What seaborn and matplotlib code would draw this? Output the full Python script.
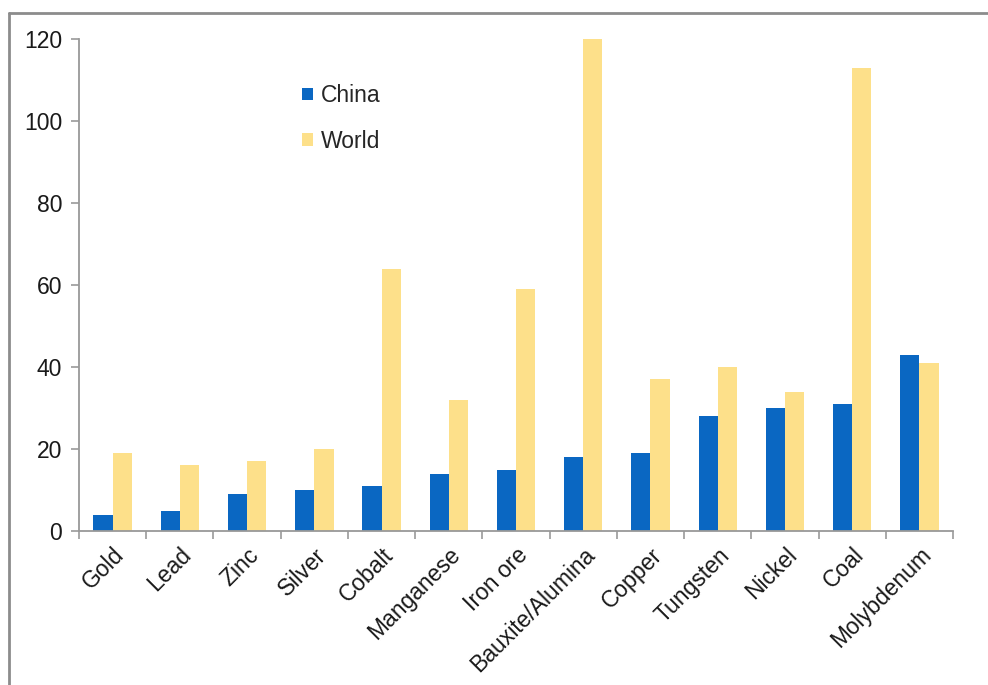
import matplotlib
matplotlib.use("Agg")
import matplotlib.pyplot as plt
from matplotlib.lines import Line2D
from matplotlib.patches import Patch
from matplotlib.transforms import ScaledTranslation
import seaborn as sns
import pandas as pd
import numpy as np

minerals = ["Gold", "Lead", "Zinc", "Silver", "Cobalt", "Manganese", "Iron ore",
            "Bauxite/Alumina", "Copper", "Tungsten", "Nickel", "Coal", "Molybdenum"]
china = [4, 5, 9, 10, 11, 14, 15, 18, 19, 28, 30, 31, 43]
world = [19, 16, 17, 20, 64, 32, 59, 120, 37, 40, 34, 113, 41]
series = ["China", "World"]
colors = {"China": "#0A67C2", "World": "#FDE08A"}
y_ticks = [0, 20, 40, 60, 80, 100, 120]

df = pd.DataFrame({
    "Mineral": minerals * 2,
    "Series": ["China"] * len(minerals) + ["World"] * len(minerals),
    "Value": china + world,
})

sns.set_theme(style="white")
plt.rcParams["font.family"] = ["Liberation Sans", "DejaVu Sans"]

fig = plt.figure(figsize=(9.88, 6.85), dpi=100)
ax = fig.add_axes([0.080, 0.2248, 0.8846, 0.7182])

sns.barplot(data=df, x="Mineral", y="Value", hue="Series", order=minerals,
            hue_order=series, palette=colors, width=0.57, saturation=1,
            edgecolor="none", linewidth=0, legend=False, ax=ax)

ax.set_xlim(-0.5, len(minerals) - 0.5)
ax.set_ylim(0, 120)
ax.set_yticks(y_ticks)
ax.set_yticklabels([str(v) for v in y_ticks], fontsize=16.5, color="#1a1a1a")
ax.set_xlabel("")
ax.set_ylabel("")

# category labels, tick marks between categories
ax.set_xticks(range(len(minerals)))
ax.set_xticklabels(minerals, rotation=45, ha="right", rotation_mode="anchor",
                   fontsize=16.5, color="#1a1a1a")
shift = ScaledTranslation(5 / 100, 0, fig.dpi_scale_trans)
for lbl in ax.get_xticklabels():
    lbl.set_transform(lbl.get_transform() + shift)
ax.tick_params(axis="x", which="major", length=0, pad=9)
ax.set_xticks(np.arange(-0.5, len(minerals), 1.0), minor=True)
ax.tick_params(axis="x", which="minor", length=6, width=1.2, color="#999999",
               direction="out", bottom=True)
ax.tick_params(axis="y", which="major", length=6, width=1.2, color="#999999",
               direction="out", left=True, pad=6)

for side in ["top", "right"]:
    ax.spines[side].set_visible(False)
for side in ["left", "bottom"]:
    ax.spines[side].set_color("#999999")
    ax.spines[side].set_linewidth(1.3)

# legend with small square markers
handles = [Patch(facecolor=colors[s], edgecolor="none") for s in series]
fig.legend(handles, series, loc="upper left", bbox_to_anchor=(0.285, 0.907),
           frameon=False, fontsize=16.5, handlelength=0.45, handleheight=0.45,
           handletextpad=0.35, labelspacing=0.98)

# outer frame along the left and top edges
frame_color = "#8c8c8c"
fig.add_artist(Line2D([0.0095, 0.0095], [0.0, 0.981], transform=fig.transFigure,
                      color=frame_color, linewidth=2))
fig.add_artist(Line2D([0.0095, 1.0], [0.981, 0.981], transform=fig.transFigure,
                      color=frame_color, linewidth=2))

fig.savefig("out.png", dpi=100, facecolor="white")
